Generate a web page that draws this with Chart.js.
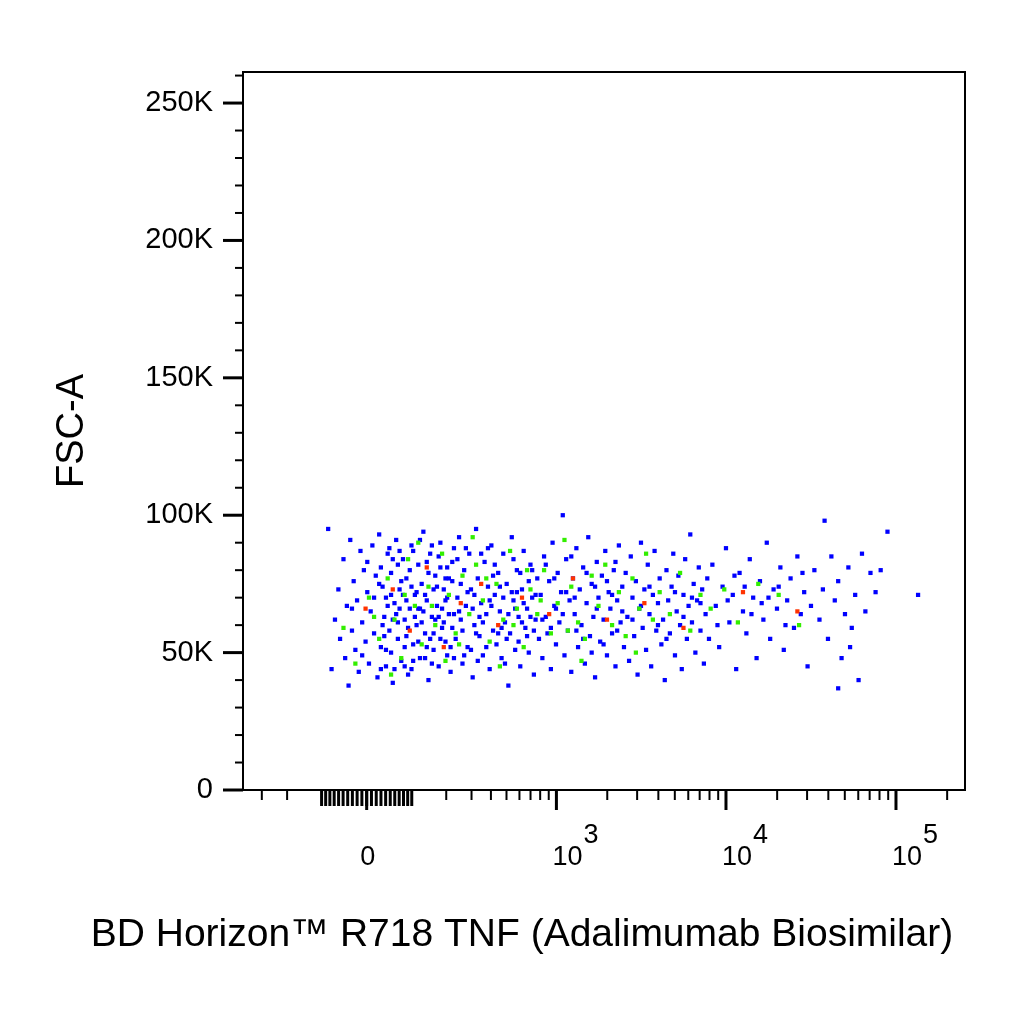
<!DOCTYPE html>
<html><head><meta charset="utf-8">
<script src="https://cdn.jsdelivr.net/npm/chart.js@4"></script>
<style>html,body{margin:0;padding:0;background:#fff}#c{display:block}</style>
</head><body>
<canvas id="c" width="1024" height="1024"></canvas>
<script>
// x values in biexponential display units (decades: 3 = 10^3), y in thousands (K)
const blueCells = [
[1.66,95],[1.68,44],[1.70,62],[1.72,73],[1.73,55],[1.75,84],[1.76,48],[1.77,67],[1.78,38],[1.79,91],[1.80,58],[1.81,76],[1.82,51],[1.83,69],[1.84,43],[1.85,87],[1.86,61],[1.87,80],[1.88,54],[1.89,72],[1.90,46],[1.91,65],[1.92,89],[1.93,57],[1.94,78],[1.95,41],[1.80,66],[1.86,49],[1.89,83],[1.93,70],
[1.96,93],[1.97,52],[1.98,74],[1.99,63],[2.00,45],[2.01,86],[2.02,58],[2.03,79],[2.04,39],[2.05,68],[2.06,91],[2.07,55],[2.08,73],[2.09,47],[2.10,84],[2.11,62],[2.12,77],[2.13,42],[2.14,66],[2.15,89],[2.16,53],[2.17,71],[2.18,60],[2.19,82],[2.20,48],[2.21,75],[2.22,94],[2.23,57],[2.24,69],[2.25,40],[2.26,86],[2.27,63],[2.28,51],[2.29,78],[2.30,67],[2.31,45],[2.32,90],[2.33,59],[2.34,73],[2.35,54],[2.36,81],[2.37,64],[2.38,43],[2.39,76],[2.40,88],
[1.97,81],[2.00,70],[2.03,50],[2.06,64],[2.09,76],[2.12,56],[2.15,44],[2.18,72],[2.21,61],[2.24,83],[2.27,46],[2.30,74],[2.33,66],[2.36,49],[2.39,59],
[1.98,60],[2.02,88],[2.05,44],[2.08,66],[2.11,52],[2.14,80],[2.17,63],[2.20,91],[2.23,71],[2.26,55],[2.29,62],[2.32,81],[2.35,69],[2.38,52],
[1.99,56],[2.01,67],[2.04,84],[2.07,61],[2.10,71],[2.13,59],[2.16,87],[2.19,54],[2.22,65],[2.25,79],[2.28,57],[2.31,85],[2.34,61],[2.37,77],[2.40,48],
[1.96,75],[2.00,51],[2.04,62],[2.08,87],[2.12,69],[2.16,47],[2.20,66],[2.24,52],[2.28,73],[2.32,55],[2.36,70],[2.40,64],
[1.97,44],[2.03,71],[2.07,82],[2.11,45],[2.15,74],[2.19,66],[2.23,48],[2.27,89],[2.31,63],[2.35,77],[2.39,83],
[2.41,55],[2.42,70],[2.43,92],[2.44,62],[2.45,46],[2.46,80],[2.47,67],[2.48,52],[2.49,86],[2.50,73],[2.51,41],[2.52,60],[2.53,95],[2.54,77],[2.55,56],[2.56,68],[2.57,49],[2.58,83],[2.59,64],[2.60,74],[2.61,44],[2.62,89],[2.63,58],[2.64,71],[2.65,53],[2.66,79],[2.67,65],[2.68,48],[2.69,86],[2.70,61],[2.71,75],[2.72,38],[2.73,57],[2.74,92],[2.75,69],[2.76,51],[2.77,80],[2.78,63],[2.79,45],[2.80,73],[2.81,87],[2.82,59],[2.83,66],[2.84,50],[2.85,82],[2.86,70],[2.87,42],[2.88,62],[2.89,77],[2.90,55],
[2.42,84],[2.45,58],[2.48,72],[2.51,66],[2.54,47],[2.57,61],[2.60,88],[2.63,78],[2.66,57],[2.69,70],[2.72,64],[2.75,84],[2.78,54],[2.81,68],[2.84,76],[2.87,58],[2.44,75],[2.50,51],[2.56,86],[2.62,67],[2.68,59],[2.74,72],[2.80,61],[2.86,80],
[2.43,65],[2.47,88],[2.52,71],[2.55,63],[2.59,52],[2.64,82],[2.67,74],[2.71,55],[2.76,66],[2.79,79],[2.83,56],[2.88,71],[2.46,49],[2.53,57],[2.61,69],[2.70,46],[2.77,72],[2.85,63],
[2.91,71],[2.92,48],[2.93,85],[2.94,63],[2.95,57],[2.96,76],[2.97,44],[2.98,90],[2.99,67],[3.00,53],[3.01,79],[3.02,61],[3.03,72],[3.04,100],[3.05,49],[3.06,84],[3.07,58],[3.08,69],[3.09,43],[3.10,77],[3.11,64],[3.12,88],[3.13,52],[3.14,73],[3.15,60],[3.16,81],[3.17,46],[3.18,68],[3.19,92],[3.20,56],[3.21,75],[3.22,63],[3.23,41],[3.24,83],[3.25,70],[3.26,54],[3.27,78],[3.28,62],[3.29,87],[3.30,49],[3.31,72],[3.32,66],[3.33,57],[3.34,80],[3.35,45],[3.36,69],[3.37,89],[3.38,61],[3.39,74],[3.40,52],
[2.94,82],[3.00,66],[3.06,72],[3.12,58],[3.18,79],[3.24,66],[3.30,76],[3.36,58],[2.97,59],[3.09,85],[3.21,50],[3.33,71],
[2.92,62],[2.99,77],[3.04,64],[3.11,70],[3.16,55],[3.23,74],[3.28,53],[3.35,83],[3.39,65],
[3.41,79],[3.42,63],[3.43,47],[3.44,85],[3.45,70],[3.46,56],[3.47,76],[3.48,42],[3.49,66],[3.50,90],[3.51,59],[3.52,73],[3.53,51],[3.54,82],[3.55,64],[3.56,45],[3.57,71],[3.58,87],[3.59,58],[3.60,68],[3.61,77],[3.62,53],[3.63,62],[3.64,40],[3.65,80],[3.66,69],[3.67,57],[3.68,74],[3.69,86],[3.70,49],[3.71,65],[3.72,78],[3.73,60],[3.74,44],[3.75,71],[3.76,84],[3.77,55],[3.78,67],[3.79,93],[3.80,61],[3.81,75],[3.82,50],[3.83,69],[3.84,81],[3.85,58],[3.86,73],[3.87,46],[3.88,64],[3.89,77],[3.90,55],
[3.45,62],[3.55,74],[3.65,55],[3.75,63],[3.85,68],[3.50,67],[3.60,60],[3.70,72],[3.80,70],
[3.92,82],[3.94,67],[3.96,52],[3.98,74],[4.00,88],[4.02,61],[4.04,71],[4.06,44],[4.08,79],[4.10,65],[4.12,57],[4.14,84],[4.16,70],[4.18,48],[4.20,76],[4.22,62],[4.24,90],[4.26,55],[4.28,73],[4.30,66],[4.32,81],[4.34,51],[4.36,69],[4.38,77],[4.40,59],[4.42,85],[4.44,64],[4.46,72],[4.48,45],[4.50,67],
[3.95,60],[4.05,78],[4.15,64],[4.25,70],[4.35,60],[4.45,79],[4.01,69],[4.11,74],[4.21,68],[4.31,74],
[4.52,80],[4.55,62],[4.57,73],[4.60,55],[4.62,85],[4.64,69],[4.66,76],[4.68,48],[4.70,64],[4.72,81],[4.74,59],[4.76,71],[4.78,40],[4.58,98],[4.66,37],[4.82,65],[4.85,79],[4.88,72],[4.91,80],[4.95,94],[5.13,71],[4.80,86],[4.73,52]
];
const greenCells = [
[1.75,59],[1.82,46],[1.90,70],[1.96,55],[2.01,77],[2.05,62],[2.09,48],[2.13,84],[2.17,67],[2.21,53],[2.25,74],[2.29,60],[2.33,86],[2.37,71],[2.41,57],[2.45,78],[2.49,64],[2.53,82],[2.57,69],[2.61,54],[2.65,75],[2.69,62],[2.73,87],[2.77,66],[2.81,52],[2.85,73],[2.89,64],[2.93,80],[2.97,57],[3.01,68],[3.05,91],[3.09,74],[3.13,61],[3.17,55],[3.21,78],[3.25,67],[3.29,82],[3.33,60],[3.37,72],[3.41,56],[3.45,77],[3.49,66],[3.53,86],[3.57,62],[3.61,72],[3.67,64],[3.73,79],[3.79,58],[3.85,71],[3.91,66],[3.99,73],[4.07,61],[4.19,75],[4.31,71],[4.43,60],[2.03,42],[2.19,90],[2.35,47],[2.51,92],[2.67,45],[2.83,80],[3.15,47],[3.47,50],
[1.93,63],[2.11,71],[2.27,67],[2.43,53],[2.59,77],[2.75,60],[2.91,69],[3.07,58]
];
const redCells = [
[1.88,66],[2.04,73],[2.14,58],[2.24,81],[2.34,52],[2.44,68],[2.56,75],[2.66,60],[2.80,70],[2.96,64],[3.10,77],[3.30,62],[3.52,68],[3.75,59],[4.42,65],[4.10,72]
];
const yTickLabels = ['0','50K','100K','150K','200K','250K'];
const xMajorValues = [0, 1000, 10000, 100000];
const xMajorLabels = [['0',''],['10','3'],['10','4'],['10','5']];

const C = 77;
function T(v){ return Math.log10(C) + Math.asinh(v/(2*C))/Math.LN10; }
const toPts = a => a.map(p => ({x:p[0], y:p[1]}));

const xMinor = [-300,-200];
for (let v=-100; v<=100; v+=10) xMinor.push(v);
for (let d=100; d<=10000; d*=10) for (let k=2;k<=9;k++) xMinor.push(k*d);
xMinor.push(200000);

const axisPlugin = {
  id:'axisPlugin',
  afterDraw(chart){
    const ctx = chart.ctx, a = chart.chartArea, xs = chart.scales.x, ys = chart.scales.y;
    ctx.save();
    ctx.strokeStyle = '#000'; ctx.fillStyle = '#000';
    ctx.lineWidth = 2;
    ctx.strokeRect(a.left, a.top, a.right-a.left, a.bottom-a.top);
    for (let v=0; v<=260; v+=10){
      const y = ys.getPixelForValue(v);
      const major = v%50===0;
      ctx.lineWidth = major?3:2;
      ctx.beginPath(); ctx.moveTo(a.left-(major?20:8), y); ctx.lineTo(a.left, y); ctx.stroke();
    }
    xMinor.forEach(v=>{
      const x = xs.getPixelForValue(T(v));
      if (x<a.left||x>a.right) return;
      const len = Math.abs(v)<=100 ? 16 : 10;
      ctx.lineWidth = Math.abs(v)<=100 ? 3 : 2;
      ctx.beginPath(); ctx.moveTo(x, a.bottom); ctx.lineTo(x, a.bottom+len); ctx.stroke();
    });
    xMajorValues.forEach((v,i)=>{
      const x = xs.getPixelForValue(T(v));
      ctx.lineWidth = 3;
      ctx.beginPath(); ctx.moveTo(x, a.bottom); ctx.lineTo(x, a.bottom+20); ctx.stroke();
      const [base, sup] = xMajorLabels[i];
      ctx.font = '27px "Liberation Sans", Arial, sans-serif';
      ctx.textBaseline = 'alphabetic';
      if (!sup){ ctx.textAlign='center'; ctx.fillText(base, x+1, 865); }
      else {
        ctx.textAlign='left'; ctx.fillText(base, x-4, 865);
        const w = ctx.measureText(base).width;
        ctx.fillText(sup, x-4+w+1, 843);
      }
    });
    ctx.font = '39px "Liberation Sans", Arial, sans-serif';
    ctx.textAlign='center'; ctx.textBaseline='middle';
    ctx.fillText('BD Horizon™ R718 TNF (Adalimumab Biosimilar)', 522, 935);
    ctx.restore();
  }
};

const common = {showLine:false, pointStyle:'rect', pointRadius:3, pointBorderWidth:0, pointHoverRadius:3};
new Chart(document.getElementById('c'), {
  type:'scatter',
  data:{datasets:[
    {...common, label:'high', data:toPts(redCells), backgroundColor:'#ff3300'},
    {...common, label:'mid', data:toPts(greenCells), backgroundColor:'#33ee00'},
    {...common, label:'low', data:toPts(blueCells), backgroundColor:'#0000ff'}
  ]},
  options:{
    responsive:false, animation:false, events:[],
    layout:{padding:{top:72,right:59,left:0,bottom:0}},
    plugins:{legend:{display:false}, tooltip:{enabled:false}},
    scales:{
      x:{type:'linear', min:1.159, max:5.406,
         grid:{display:false, drawTicks:false}, border:{display:false},
         ticks:{display:false},
         afterFit(s){ s.height = 234; }},
      y:{type:'linear', min:0, max:261.3,
         grid:{display:false, drawTicks:false}, border:{display:false},
         afterBuildTicks(s){ s.ticks = [0,50,100,150,200,250].map(v=>({value:v})); },
         ticks:{padding:30, color:'#000', font:{family:'"Liberation Sans", Arial, sans-serif', size:29},
                callback:(v)=>yTickLabels[v/50]},
         title:{display:true, text:'FSC-A', color:'#000', padding:{top:50,bottom:0},
                font:{family:'"Liberation Sans", Arial, sans-serif', size:38}},
         afterFit(s){ s.width = 243; }}
    }
  },
  plugins:[axisPlugin]
});
</script>
</body></html>
